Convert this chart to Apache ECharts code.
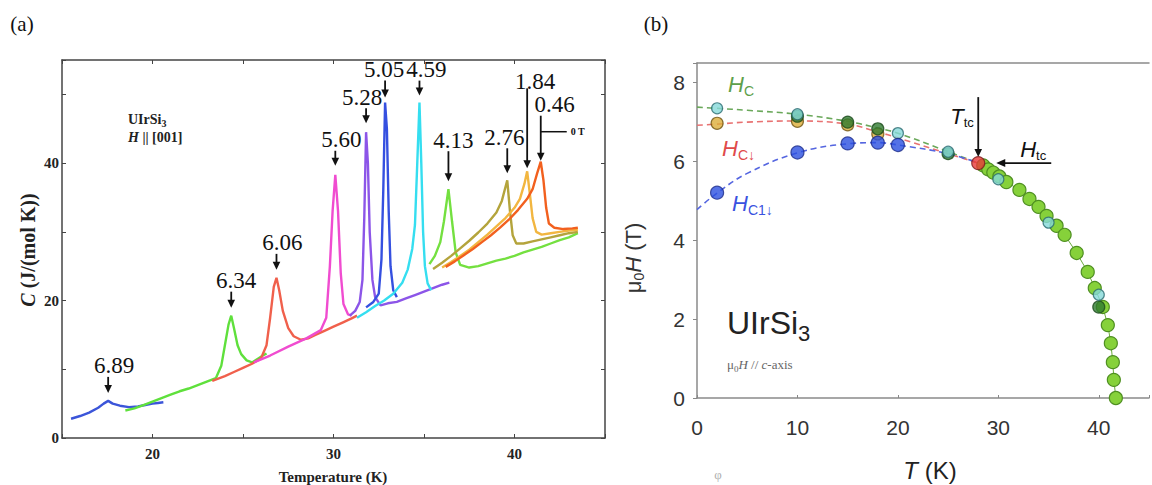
<!DOCTYPE html>
<html><head><meta charset="utf-8">
<script src="https://cdn.jsdelivr.net/npm/echarts/dist/echarts.min.js"></script>
<style>html,body{margin:0;padding:0;background:#fff}#c{width:1152px;height:485px}</style>
</head><body><div id="c"></div>
<script>
// ---------- Panel (a): specific heat C(T) at several fields ----------
const c689 = [[15.5,2.8],[16.0,3.2],[16.5,3.7],[17.0,4.4],[17.3,5.0],[17.55,5.4],[17.8,5.0],[18.2,4.7],[18.7,4.5],[19.2,4.6],[19.6,4.8],[20.0,5.0],[20.3,5.1],[20.6,5.2]];
const c634 = [[18.5,4.0],[19.0,4.3],[19.5,4.8],[20.0,5.3],[20.5,5.8],[21.0,6.3],[21.5,6.8],[22.0,7.2],[22.5,7.7],[23.0,8.2],[23.5,8.7],[23.8,10.5],[24.0,13.5],[24.2,16.5],[24.35,17.8],[24.5,16.0],[24.7,13.5],[24.9,12.2],[25.2,11.3],[25.5,11.0],[25.8,11.5],[26.1,12.0],[26.3,12.3]];
const c606 = [[23.3,8.3],[24.0,9.0],[24.5,9.6],[25.0,10.2],[25.5,10.8],[26.0,11.6],[26.3,13.5],[26.5,17.5],[26.7,22.0],[26.85,23.3],[27.0,21.5],[27.2,18.5],[27.5,16.0],[27.8,14.8],[28.2,14.3],[28.6,14.5],[29.0,15.0],[29.5,15.6],[30.0,16.2],[30.5,16.8],[31.0,17.4],[31.3,17.8]];
const c560 = [[25.6,11.0],[26.5,12.0],[27.5,13.3],[28.5,14.5],[29.3,15.7],[29.6,17.5],[29.8,25.0],[29.95,33.0],[30.1,38.3],[30.25,33.0],[30.4,24.0],[30.55,19.5],[30.8,18.0],[31.0,17.8]];
const c528 = [[30.9,17.8],[31.2,18.5],[31.45,19.8],[31.6,23.0],[31.7,32.0],[31.8,44.5],[31.9,40.0],[32.0,30.0],[32.15,23.0],[32.3,20.5],[32.6,19.3],[33.0,19.6],[33.5,19.8],[34.0,20.3],[34.5,20.8],[35.0,21.3],[35.5,21.8],[36.0,22.3],[36.4,22.6]];
const c505 = [[31.8,19.0],[32.2,19.8],[32.5,21.0],[32.65,26.0],[32.75,36.0],[32.85,48.8],[32.95,45.0],[33.05,33.0],[33.15,25.0],[33.3,21.5],[33.5,20.5]];
const c459 = [[31.3,17.5],[31.8,18.3],[32.3,19.2],[32.8,20.0],[33.3,21.0],[33.8,22.6],[34.1,24.5],[34.35,27.5],[34.5,31.0],[34.6,38.0],[34.75,48.8],[34.85,40.0],[34.95,30.0],[35.05,25.0],[35.2,22.5],[35.4,21.5]];
const c413 = [[35.3,25.3],[35.6,26.5],[35.9,28.5],[36.1,31.5],[36.35,36.2],[36.55,31.5],[36.75,27.0],[37.0,25.2],[37.5,24.8],[38.0,25.0],[38.5,25.4],[39.0,25.8],[39.5,26.1],[40.0,26.5],[40.5,27.0],[41.0,27.4],[41.5,27.8],[42.0,28.3],[42.5,28.8],[43.0,29.2],[43.5,29.8]];
const c276 = [[35.5,24.6],[36.0,25.5],[36.5,26.5],[37.0,27.6],[37.5,28.7],[38.0,29.9],[38.5,31.2],[39.0,32.8],[39.3,34.5],[39.6,37.5],[39.75,33.0],[39.9,29.5],[40.1,28.3],[40.5,28.3],[41.0,28.6],[41.5,28.9],[42.0,29.2],[42.5,29.5],[43.0,29.8],[43.5,30.0]];
const c184 = [[36.0,24.8],[36.5,25.6],[37.0,26.5],[37.5,27.4],[38.0,28.5],[38.5,29.6],[39.0,30.8],[39.5,32.0],[40.0,33.5],[40.3,34.8],[40.55,37.0],[40.7,38.8],[40.85,35.5],[41.0,32.0],[41.2,30.0],[41.5,29.6],[42.0,29.8],[42.5,30.0],[43.0,30.2],[43.5,30.3]];
const c046 = [[36.2,24.9],[36.7,25.7],[37.2,26.6],[37.7,27.5],[38.2,28.5],[38.7,29.5],[39.2,30.6],[39.7,31.8],[40.2,33.2],[40.7,34.8],[41.0,36.2],[41.25,38.5],[41.45,40.2],[41.6,37.5],[41.75,33.5],[41.9,31.2],[42.2,30.6],[42.7,30.4],[43.2,30.5],[43.5,30.6]];
const fieldLabelsA = ['6.89','6.34','6.06','5.60','5.28','5.05','4.59','4.13','2.76','1.84','0.46'];
const curvesA = [c689,c634,c606,c560,c528,c505,c459,c413,c276,c184,c046];

// ---------- Panel (b): H-T phase diagram ----------
const tLime = [28.5,29.0,29.5,30.1,30.8,32.1,33.1,34.0,34.8,35.8,36.6,37.8,38.9,39.6,40.4,40.9,41.2,41.4,41.5,41.7];
const hLime = [5.9,5.8,5.72,5.62,5.48,5.28,5.05,4.85,4.62,4.37,4.14,3.68,3.2,2.79,2.31,1.85,1.39,0.91,0.46,0.0];
const tTeal = [2,10,20,25,30,35,40];
const hTeal = [7.35,7.2,6.72,6.25,5.55,4.45,2.62];
const tDark = [10,15,18,25,40];
const hDark = [7.15,7.0,6.83,6.2,2.31];
const tGold = [2,10,15,18];
const hGold = [6.97,7.02,6.93,6.7];
const tBlue = [2,10,15,18,20];
const hBlue = [5.21,6.23,6.46,6.48,6.42];
const tRed = [28.0];
const hRed = [5.96];
const lineHc   = [[0,7.38],[2,7.35],[5,7.3],[10,7.2],[15,7.02],[18,6.85],[20,6.72],[25,6.25],[28,5.96]];
const lineHcd  = [[0,6.92],[2,6.95],[5,7.0],[10,7.03],[15,6.95],[18,6.75],[20,6.6],[25,6.2],[28,5.96]];
const lineHc1d = [[0,4.78],[2,5.2],[5,5.7],[10,6.22],[15,6.45],[18,6.48],[20,6.42],[25,6.2],[28,5.96]];

const zip = (a,b) => a.map((v,i)=>[v,b[i]]);

// ---------- styles ----------
const colorsA = ['#3b55d9','#5fe03c','#f0604c','#f04cd0','#8c55e8','#3550e0','#35def0','#74e040','#b4a43c','#f2b640','#f2601e'];
const annLayout = [
  {gap:8,len:16,dx:6},{gap:8,len:16,dx:5},{gap:8,len:16,dx:6},{gap:9,len:15,dx:6},
  {gap:9,len:15,dx:-4},{gap:5,len:17,dx:-1},{gap:7,len:15,dx:7},{gap:8,len:30,dx:5},
  {gap:7,len:25,dx:-3},{gap:3,len:80,dx:8,ly:-7},{gap:1,len:45,dx:14}
];
const SERIF = '"Liberation Serif","Times New Roman",serif';
const SANS = '"Liberation Sans",Arial,sans-serif';
const frameA = {color:'#444', width:1.5};
const frameB = {color:'#8a8a8a', width:1.5};

const seriesA = curvesA.map((d,i)=>({
  type:'line', xAxisIndex:0, yAxisIndex:0, data:d, showSymbol:false, symbol:'none',
  lineStyle:{color:colorsA[i], width:2.4}, z:3, silent:true
}));

function pts(data, fill, border, size){
  return {type:'scatter', xAxisIndex:2, yAxisIndex:2, data:data, symbolSize:size,
    itemStyle:{color:fill, borderColor:border, borderWidth:1.2}, z:5, silent:true};
}
function dashed(data, color){
  return {type:'line', xAxisIndex:2, yAxisIndex:2, data:data, smooth:0.4, showSymbol:false, symbol:'none',
    lineStyle:{color:color, width:1.6, type:[6,4]}, z:3, silent:true};
}
const seriesB = [
  dashed(lineHc,'#6aa85a'),
  dashed(lineHcd,'#e87272'),
  dashed(lineHc1d,'#5566e0'),
  {type:'line', xAxisIndex:2, yAxisIndex:2, data:zip(tLime,hLime), symbol:'circle', symbolSize:13,
   itemStyle:{color:'#86d13a', borderColor:'#4f8f22', borderWidth:1.2}, lineStyle:{color:'#6aaa3a', width:1}, z:4, silent:true},
  pts(zip(tRed,hRed),'#e83a3a','#7a1a1a',13),
  pts(zip(tGold,hGold),'#dcae3a','#6e5210',12),
  pts(zip(tDark,hDark),'#2f7a2f','#1b4a1b',12),
  pts(zip(tTeal,hTeal),'#86dada','#2a6a70',11),
  pts(zip(tBlue,hBlue),'#2a4fe0','#1a2a8a',13)
];

const option = {
  animation:false,
  backgroundColor:'#ffffff',
  grid:[
    {left:62, top:60, width:543, height:378},
    {left:697, top:63, width:463, height:335}
  ],
  xAxis:[
    {gridIndex:0, type:'value', min:15, max:45, interval:5, position:'bottom',
     axisLine:{onZero:false, lineStyle:frameA}, axisTick:{inside:true, length:4, lineStyle:{color:'#444'}},
     splitLine:{show:false},
     axisLabel:{margin:8, fontFamily:SERIF, fontWeight:'bold', fontSize:15, color:'#222', formatter:v=> v%10===0 ? String(v) : ''}},
    {gridIndex:0, type:'value', min:15, max:45, interval:5, position:'top',
     axisLine:{onZero:false, lineStyle:frameA}, axisTick:{inside:true, length:4, lineStyle:{color:'#444'}},
     splitLine:{show:false}, axisLabel:{show:false}},
    {gridIndex:1, type:'value', min:0, max:45, interval:10, position:'bottom',
     axisLine:{onZero:false, lineStyle:frameB}, axisTick:{inside:true, length:3, lineStyle:{color:'#888'}},
     splitLine:{show:false},
     axisLabel:{margin:19, fontFamily:SANS, fontSize:21, color:'#333', formatter:v=> v%10===0 ? String(v) : ''}},
    {gridIndex:1, type:'value', min:0, max:45, interval:10, position:'top',
     axisLine:{onZero:false, lineStyle:frameB}, axisTick:{show:false}, splitLine:{show:false}, axisLabel:{show:false}}
  ],
  yAxis:[
    {gridIndex:0, type:'value', min:0, max:55, interval:10, position:'left',
     axisLine:{onZero:false, lineStyle:frameA}, axisTick:{inside:true, length:4, lineStyle:{color:'#444'}},
     splitLine:{show:false},
     axisLabel:{margin:3, fontFamily:SERIF, fontWeight:'bold', fontSize:15, color:'#222', formatter:v=> v%20===0 ? String(v) : ''}},
    {gridIndex:0, type:'value', min:0, max:55, interval:10, position:'right',
     axisLine:{onZero:false, lineStyle:frameA}, axisTick:{inside:true, length:4, lineStyle:{color:'#444'}},
     splitLine:{show:false}, axisLabel:{show:false}},
    {gridIndex:1, type:'value', min:0, max:8.5, interval:2, position:'left',
     axisLine:{onZero:false, lineStyle:frameB}, axisTick:{inside:false, length:4, lineStyle:{color:'#888'}},
     splitLine:{show:false},
     axisLabel:{margin:12, fontFamily:SANS, fontSize:21, color:'#333', formatter:v=> v%2===0 ? String(v) : ''}}
  ],
  series: seriesA.concat(seriesB)
};

const chart = echarts.init(document.getElementById('c'), null, {renderer:'svg', width:1152, height:485});
chart.setOption(option);

// ---------- annotations ----------
const G = [];
function txt(x,y,text,style,extra){ G.push(Object.assign({type:'text', x:x, y:y, silent:true, style:Object.assign({text:text, fill:'#111'}, style)}, extra||{})); }
function vArrow(x, yTop, yTip, color){
  G.push({type:'line', silent:true, shape:{x1:x,y1:yTop,x2:x,y2:yTip-6}, style:{stroke:color||'#111', lineWidth:1.8}});
  G.push({type:'polygon', silent:true, shape:{points:[[x-3.8,yTip-8],[x+3.8,yTip-8],[x,yTip]]}, style:{fill:color||'#111'}});
}
function hArrowLeft(xTip, xEnd, y){
  G.push({type:'line', silent:true, shape:{x1:xTip+6,y1:y,x2:xEnd,y2:y}, style:{stroke:'#111', lineWidth:1.8}});
  G.push({type:'polygon', silent:true, shape:{points:[[xTip+9,y-4],[xTip+9,y+4],[xTip,y]]}, style:{fill:'#111'}});
}

// panel letters
txt(22,24,'(a)',{font:'21px '+SERIF, textAlign:'center', textVerticalAlign:'middle'});
txt(656,24,'(b)',{font:'21px '+SERIF, textAlign:'center', textVerticalAlign:'middle'});

// (a) peak arrows + field labels, anchored on each curve's maximum
curvesA.forEach((d,i)=>{
  let pk = d[0]; d.forEach(p=>{ if(p[1]>pk[1]) pk=p; });
  const p = chart.convertToPixel({seriesIndex:i}, pk);
  const L = annLayout[i];
  const tip = p[1]-L.gap, top = tip-L.len;
  vArrow(p[0], top, tip);
  txt(p[0]+L.dx, top + (L.ly!==undefined?L.ly:-11), fieldLabelsA[i],
      {font:'23px '+SERIF, textAlign:'center', textVerticalAlign:'middle'});
  if (i===curvesA.length-1){
    const yy = top+16;
    G.push({type:'line', silent:true, shape:{x1:p[0],y1:yy,x2:p[0]+26,y2:yy}, style:{stroke:'#111', lineWidth:1.5}});
    txt(p[0]+30, yy, '0 T', {font:'bold 10px '+SERIF, textVerticalAlign:'middle'});
  }
});

// (a) sample labels
G.push({type:'text', x:128, y:112, silent:true, style:{
  text:'{a|UIrSi}{s|3}', rich:{a:{font:'bold 14px '+SERIF, fill:'#222', verticalAlign:'top'}, s:{font:'bold 10px '+SERIF, fill:'#222', verticalAlign:'top', padding:[6,0,0,0]}}}});
G.push({type:'text', x:128, y:130, silent:true, style:{
  text:'{h|H}{a| || [001]}', rich:{h:{font:'italic bold 14px '+SERIF, fill:'#222'}, a:{font:'bold 14px '+SERIF, fill:'#222'}}}});

// (a) axis titles
txt(333,477,'Temperature (K)',{font:'bold 15px '+SERIF, textAlign:'center', textVerticalAlign:'middle', fill:'#222'});
G.push({type:'text', x:28, y:250, rotation:Math.PI/2, silent:true, style:{
  text:'{i|C}{a| (J/(mol K))}', textAlign:'center', textVerticalAlign:'middle',
  rich:{i:{font:'italic bold 20px '+SERIF, fill:'#222'}, a:{font:'bold 20px '+SERIF, fill:'#222'}}}});

// (b) axis titles
G.push({type:'text', x:930, y:470, silent:true, style:{
  text:'{i|T}{a| (K)}', textAlign:'center', textVerticalAlign:'middle',
  rich:{i:{font:'italic 24px '+SANS, fill:'#222'}, a:{font:'24px '+SANS, fill:'#222'}}}});
G.push({type:'text', x:634, y:258, rotation:Math.PI/2, silent:true, style:{
  text:'{a|μ}{s|0}{i|H}{a| (T)}', textAlign:'center', textVerticalAlign:'middle',
  rich:{a:{font:'22px '+SANS, fill:'#333', verticalAlign:'top'}, s:{font:'14px '+SANS, fill:'#333', verticalAlign:'top', padding:[10,0,0,0]}, i:{font:'italic 22px '+SANS, fill:'#333', verticalAlign:'top'}}}});

// (b) sample label
G.push({type:'text', x:727, y:307, silent:true, style:{
  text:'{a|UIrSi}{s|3}', rich:{a:{font:'32px '+SANS, fill:'#222', verticalAlign:'top'}, s:{font:'22px '+SANS, fill:'#222', verticalAlign:'top', padding:[15,0,0,0]}}}});
G.push({type:'text', x:727, y:358, silent:true, style:{
  text:'{a|μ}{s|0}{i|H}{a| // }{i|c}{a|-axis}', rich:{a:{font:'13px '+SERIF, fill:'#666', verticalAlign:'top'}, s:{font:'9px '+SERIF, fill:'#666', verticalAlign:'top', padding:[6,0,0,0]}, i:{font:'italic 13px '+SERIF, fill:'#666', verticalAlign:'top'}}}});

// (b) curve labels
function hlab(x,y,sub,color){
  G.push({type:'text', x:x, y:y, silent:true, style:{
    text:'{h|H}{s|'+sub+'}', rich:{h:{font:'italic 22px '+SANS, fill:color, verticalAlign:'top'}, s:{font:'14px '+SANS, fill:color, verticalAlign:'top', padding:[11,0,0,0]}}}});
}
hlab(728,73,'C','#5ea04a');
hlab(722,137,'C↓','#e04a4a');
hlab(732,192,'C1↓','#3a52e0');

// (b) Ttc / Htc arrows anchored at the red point
const rp = chart.convertToPixel({seriesIndex: seriesA.length+4}, [tRed[0], hRed[0]]);
vArrow(rp[0], rp[1]-66, rp[1]-6);
G.push({type:'text', x:rp[0]-28, y:rp[1]-58, silent:true, style:{
  text:'{h|T}{s|tc}', rich:{h:{font:'italic 22px '+SANS, fill:'#111', verticalAlign:'top'}, s:{font:'13px '+SANS, fill:'#111', verticalAlign:'top', padding:[11,0,0,0]}}}});
hArrowLeft(rp[0]+18, rp[0]+73, rp[1]);
G.push({type:'text', x:rp[0]+42, y:rp[1]-25, silent:true, style:{
  text:'{h|H}{s|tc}', rich:{h:{font:'italic 22px '+SANS, fill:'#111', verticalAlign:'top'}, s:{font:'13px '+SANS, fill:'#111', verticalAlign:'top', padding:[11,0,0,0]}}}});

// stray mark below panel (b)
txt(718,474,'φ',{font:'13px '+SERIF, fill:'#b0b0b0', textAlign:'center', textVerticalAlign:'middle'});

chart.setOption({graphic:{elements:G}});
</script>
</body></html>
